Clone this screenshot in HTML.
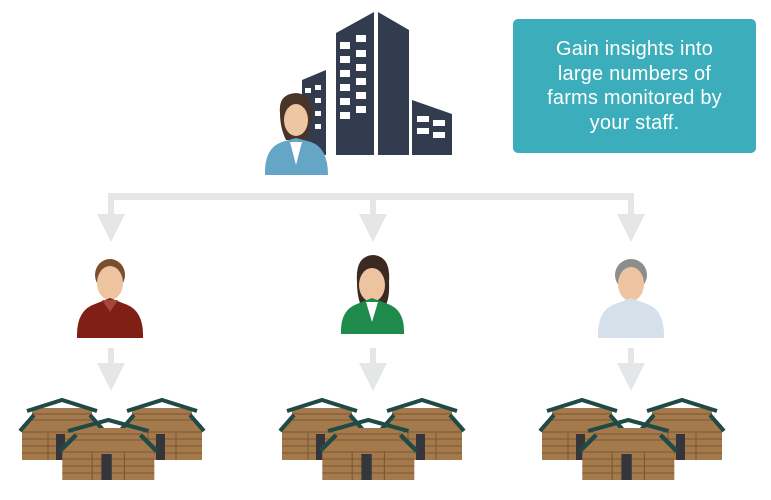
<!DOCTYPE html>
<html><head><meta charset="utf-8"><style>
body{margin:0;background:#fff;width:771px;height:500px;overflow:hidden;position:relative;font-family:"Liberation Sans",sans-serif}
.box{position:absolute;left:513px;top:19px;width:243px;height:134px;background:#3badbb;border-radius:5px;color:#fff;font-size:20px;font-weight:300;line-height:24.5px;text-align:center;box-sizing:border-box;padding-top:18px;letter-spacing:0.2px}
</style></head><body>
<svg width="771" height="500" style="position:absolute;left:0;top:0">
<defs>
<g id="barn">
<rect x="2" y="27" width="80" height="35" fill="#a47a4c"/>
<rect x="12" y="10" width="60" height="18" fill="#a47a4c"/>
<polygon points="12,18 2,30 82,30 72,18" fill="#a47a4c"/>
<g stroke="#7b5732" stroke-width="1">
<line x1="12" y1="16" x2="72" y2="16"/><line x1="12" y1="22" x2="72" y2="22"/>
<line x1="2" y1="34" x2="82" y2="34"/><line x1="2" y1="41" x2="82" y2="41"/><line x1="2" y1="48" x2="82" y2="48"/><line x1="2" y1="55" x2="82" y2="55"/>
<line x1="28" y1="34" x2="28" y2="62"/><line x1="56" y1="34" x2="56" y2="62"/>
</g>
<rect x="36" y="36" width="9" height="26" fill="#34363c"/>
<polyline points="7,13 42,2 77,13" fill="none" stroke="#1f4a45" stroke-width="4"/>
<line x1="14" y1="17" x2="0" y2="33" stroke="#1f4a45" stroke-width="4"/>
<line x1="70" y1="17" x2="84" y2="33" stroke="#1f4a45" stroke-width="4"/>
</g>
<g id="farm">
<use href="#barn" x="0" y="0"/>
<use href="#barn" x="100" y="0"/>
<use href="#barn" transform="translate(40,20) scale(1.15,1)"/>
</g>
<g id="arrow" fill="#e4e6e7">
<rect x="-3" y="0" width="6" height="16"/>
<polygon points="-14,15 14,15 0,43"/>
</g>
</defs>

<!-- connectors -->
<rect x="108" y="193" width="526" height="7" fill="#e4e6e7"/>
<use href="#arrow" x="111" y="199"/>
<use href="#arrow" x="373" y="199"/>
<use href="#arrow" x="631" y="199"/>
<use href="#arrow" x="111" y="348"/>
<use href="#arrow" x="373" y="348"/>
<use href="#arrow" x="631" y="348"/>

<!-- building -->
<g fill="#323c4e">
<polygon points="302,80 326,70 326,155 302,155"/>
<polygon points="336,33 374,12 374,155 336,155"/>
<polygon points="378,12 409,30 409,155 378,155"/>
<polygon points="412,100 452,114 452,155 412,155"/>
</g>
<g fill="#fff">
<rect x="340" y="42" width="10" height="7"/><rect x="356" y="35" width="10" height="7"/>
<rect x="340" y="56" width="10" height="7"/><rect x="356" y="50" width="10" height="7"/>
<rect x="340" y="70" width="10" height="7"/><rect x="356" y="64" width="10" height="7"/>
<rect x="340" y="84" width="10" height="7"/><rect x="356" y="78" width="10" height="7"/>
<rect x="340" y="98" width="10" height="7"/><rect x="356" y="92" width="10" height="7"/>
<rect x="340" y="112" width="10" height="7"/><rect x="356" y="106" width="10" height="7"/>
<rect x="305" y="88" width="6" height="5"/><rect x="315" y="85" width="6" height="5"/>
<rect x="315" y="98" width="6" height="5"/><rect x="315" y="111" width="6" height="5"/><rect x="315" y="124" width="6" height="5"/>
<rect x="417" y="116" width="12" height="6"/><rect x="433" y="120" width="12" height="6"/>
<rect x="417" y="128" width="12" height="6"/><rect x="433" y="132" width="12" height="6"/>
</g>
<!-- woman at building -->
<path d="M280,113 Q278,94 296,93 Q313,94 312,115 Q310,130 305,140 L286,140 Q280,128 280,113Z" fill="#4a3428"/>
<ellipse cx="296" cy="120" rx="12" ry="16" fill="#edc6a4"/>
<path d="M265,175 Q264,148 282,142 L296,138 L311,142 Q328,148 328,175Z" fill="#65a6c7"/>
<polygon points="290,142 296,165 302,142" fill="#fff"/>

<!-- people -->
<g>
<ellipse cx="110" cy="275" rx="15" ry="16" fill="#7a4e2c"/>
<ellipse cx="110" cy="283" rx="13" ry="17" fill="#edc3a0"/>
<path d="M77,338 Q76,310 95,304 L110,298 L125,304 Q144,310 143,338Z" fill="#7f1f16"/>
<polygon points="102,300 110,312 118,300" fill="#a04a3c"/>
</g>
<g>
<path d="M357,282 Q355,256 373,255 Q391,256 389,282 Q390,300 384,308 L362,308 Q357,298 357,282Z" fill="#3a2a22"/>
<ellipse cx="372" cy="285" rx="13" ry="17" fill="#edc3a0"/>
<path d="M341,334 Q340,310 357,304 L372,298 L388,304 Q405,310 404,334Z" fill="#1e8a4c"/>
<polygon points="366,302 372,322 378,302" fill="#fff"/>
</g>
<g>
<ellipse cx="631" cy="275" rx="16" ry="16" fill="#8d8d8d"/>
<ellipse cx="631" cy="284" rx="13" ry="17" fill="#edc3a0"/>
<path d="M598,338 Q597,310 615,304 L631,298 L647,304 Q665,310 664,338Z" fill="#d6e0ea"/>
</g>

<!-- farms -->
<use href="#farm" x="20" y="398"/>
<use href="#farm" x="280" y="398"/>
<use href="#farm" x="540" y="398"/>
</svg>
<div class="box">Gain insights into<br>large numbers of<br>farms monitored by<br>your staff.</div>
</body></html>
